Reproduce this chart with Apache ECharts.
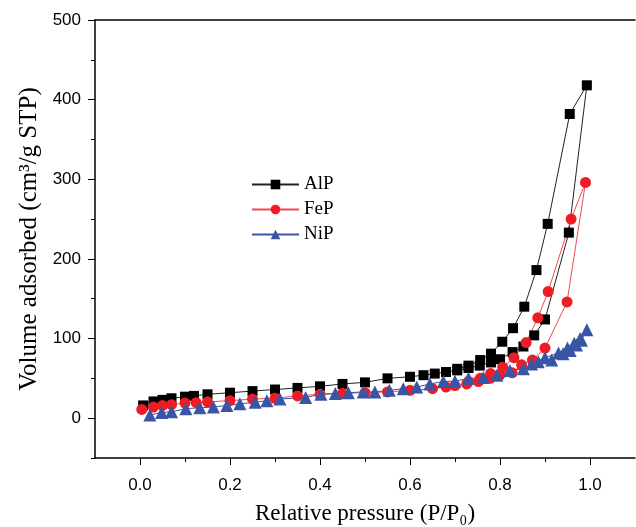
<!DOCTYPE html>
<html>
<head>
<meta charset="utf-8">
<script src="https://cdn.jsdelivr.net/npm/echarts@6/dist/echarts.min.js"></script>
<style>
  html, body { margin: 0; padding: 0; background: #fff; }
  #chart { width: 636px; height: 527px; }
</style>
</head>
<body>
<div id="chart"></div>
<script>
// AlP isotherm: adsorption branch then desorption branch
const alpAdsP = [0.007, 0.03, 0.05, 0.07, 0.1, 0.12, 0.15, 0.2, 0.25, 0.3, 0.35, 0.4, 0.45, 0.5, 0.55, 0.6, 0.63, 0.655, 0.68, 0.705, 0.73, 0.755, 0.78, 0.8, 0.828, 0.852, 0.876, 0.9, 0.953, 0.993];
const alpAdsV = [16, 21, 23, 25, 27, 28, 30, 32, 34, 36, 38, 40, 43, 45, 50, 52, 54, 56, 58, 60, 63, 66, 70, 74, 83, 90, 104, 124, 233, 418];
const alpDesP = [0.955, 0.906, 0.881, 0.854, 0.829, 0.805, 0.78, 0.756, 0.73, 0.705];
const alpDesV = [382, 244, 186, 140, 113, 96, 81, 73, 66, 62];

// FeP isotherm
const fepAdsP = [0.004, 0.03, 0.05, 0.07, 0.1, 0.125, 0.15, 0.2, 0.25, 0.3, 0.35, 0.4, 0.45, 0.5, 0.55, 0.6, 0.65, 0.68, 0.7, 0.726, 0.752, 0.778, 0.8, 0.827, 0.848, 0.872, 0.9, 0.949, 0.99];
const fepAdsV = [11, 14, 16, 17, 19, 19.5, 20.5, 22, 24, 25, 28, 30, 31, 32, 33, 35, 37, 39, 41, 43, 46, 50, 54, 57, 67, 73, 88, 146, 296];
const fepDesP = [0.958, 0.907, 0.884, 0.858, 0.831, 0.806, 0.779, 0.756, 0.73];
const fepDesV = [250, 159, 126, 95, 76, 64, 56, 50, 46];

// NiP isotherm
const nipAdsP = [0.022, 0.048, 0.07, 0.102, 0.133, 0.163, 0.193, 0.222, 0.256, 0.282, 0.311, 0.368, 0.402, 0.434, 0.463, 0.496, 0.522, 0.554, 0.585, 0.615, 0.644, 0.674, 0.7, 0.73, 0.763, 0.793, 0.822, 0.852, 0.885, 0.915, 0.94, 0.956, 0.97, 0.981, 0.993];
const nipAdsV = [4, 7, 8, 12, 13, 14, 16, 18, 20, 22, 24, 26, 30, 31, 32, 33, 33, 35, 37, 39, 43, 46, 46.5, 50, 51, 54, 60, 62, 71, 73, 81, 85, 92, 98, 111];
const nipDesP = [0.978, 0.965, 0.95, 0.93, 0.9, 0.87];
const nipDesV = [100, 94, 88, 82, 76, 68];

const xLabelValues = [0, 0.2, 0.4, 0.6, 0.8, 1.0];
const xMinorValues = [0.1, 0.3, 0.5, 0.7, 0.9];
const yLabelValues = [0, 100, 200, 300, 400, 500];
const yMinorValues = [-50, 50, 150, 250, 350, 450];

const pairs = (p, v) => p.map((x, i) => [x, v[i]]);

const serif = '"Liberation Serif", "Times New Roman", serif';
const sans = '"Liberation Sans", Arial, sans-serif';

const myChart = echarts.init(document.getElementById('chart'));

const option = {
  animation: false,
  grid: { left: 95, right: 1, top: 20, bottom: 69, outerBoundsMode: 'none' },
  legend: {
    orient: 'vertical',
    left: 246,
    top: 170,
    itemWidth: 47,
    itemHeight: 12,
    itemGap: 6,
    textStyle: { fontFamily: serif, fontSize: 19, color: '#000' },
    data: ['AlP', 'FeP', 'NiP']
  },
  xAxis: [
    {
      type: 'value',
      min: -0.1,
      max: 1.1,
      name: 'Relative pressure (P/P\u2080)',
      nameLocation: 'middle',
      nameGap: 44,
      nameTextStyle: { fontFamily: serif, fontSize: 23, color: '#000' },
      axisLine: { onZero: false, lineStyle: { color: '#000', width: 1.5 } },
      axisTick: { customValues: xLabelValues, length: 7, lineStyle: { color: '#000' } },
      axisLabel: {
        customValues: xLabelValues,
        margin: 19,
        fontFamily: sans,
        fontSize: 17,
        color: '#000',
        formatter: (v) => v.toFixed(1)
      },
      splitLine: { show: false }
    },
    {
      type: 'value',
      position: 'bottom',
      min: -0.1,
      max: 1.1,
      axisLine: { show: false, onZero: false },
      axisTick: { customValues: xMinorValues, length: 4, lineStyle: { color: '#000' } },
      axisLabel: { show: false },
      splitLine: { show: false }
    },
    {
      type: 'value',
      position: 'top',
      min: -0.1,
      max: 1.1,
      axisLine: { show: true, onZero: false, lineStyle: { color: '#000', width: 1.5 } },
      axisTick: { show: false },
      axisLabel: { show: false },
      splitLine: { show: false }
    }
  ],
  yAxis: [
    {
      type: 'value',
      min: -50,
      max: 500,
      name: 'Volume adsorbed (cm\u00b3/g STP)',
      nameLocation: 'middle',
      nameGap: 50,
      nameTextStyle: { fontFamily: serif, fontSize: 25, color: '#000' },
      axisLine: { show: true, onZero: false, lineStyle: { color: '#000', width: 1.5 } },
      axisTick: { customValues: yLabelValues, length: 7, lineStyle: { color: '#000' } },
      axisLabel: {
        customValues: yLabelValues,
        margin: 14,
        fontFamily: sans,
        fontSize: 17,
        color: '#000'
      },
      splitLine: { show: false }
    },
    {
      type: 'value',
      position: 'left',
      min: -50,
      max: 500,
      axisLine: { show: false, onZero: false },
      axisTick: { customValues: yMinorValues, length: 4, lineStyle: { color: '#000' } },
      axisLabel: { show: false },
      splitLine: { show: false }
    }
  ],
  series: [
    {
      name: 'AlP',
      type: 'line',
      symbol: 'rect',
      symbolSize: 10,
      itemStyle: { color: '#000' },
      lineStyle: { color: '#222', width: 1 },
      data: pairs(alpAdsP, alpAdsV).concat(pairs(alpDesP, alpDesV))
    },
    {
      name: 'FeP',
      type: 'line',
      symbol: 'circle',
      symbolSize: 11,
      itemStyle: { color: '#ee1c25' },
      lineStyle: { color: '#f0494f', width: 1 },
      data: pairs(fepAdsP, fepAdsV).concat(pairs(fepDesP, fepDesV))
    },
    {
      name: 'NiP',
      type: 'line',
      symbol: 'triangle',
      symbolSize: 13,
      itemStyle: { color: '#3a55a6' },
      lineStyle: { color: '#3a55a6', width: 1 },
      data: pairs(nipAdsP, nipAdsV).concat(pairs(nipDesP, nipDesV))
    }
  ]
};

myChart.setOption(option);
</script>
</body>
</html>
